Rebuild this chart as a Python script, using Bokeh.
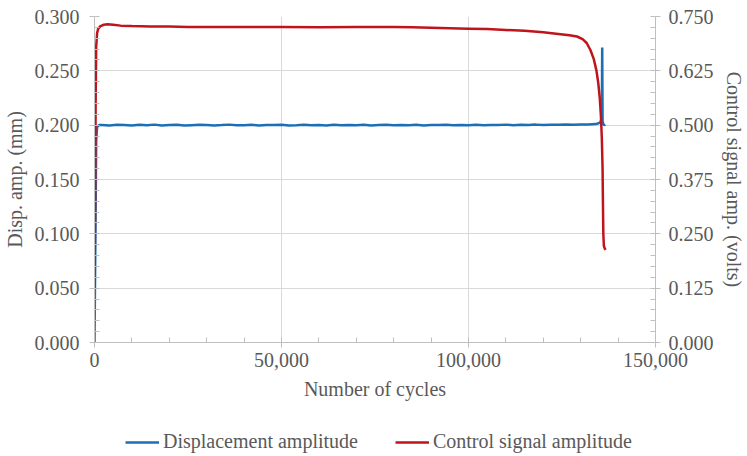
from bokeh.plotting import figure
from bokeh.models import (Range1d, LinearAxis, FixedTicker, NumeralTickFormatter,
                          Legend, LegendItem)
from bokeh.layouts import column
from bokeh.embed import file_html
from bokeh.resources import INLINE

# ---------------- data ----------------
disp_cycles = [0, 250, 450, 700, 1200,
               2000, 4000, 6000, 8000, 10000, 12000, 14000, 16000, 18000, 20000,
               22000, 24000, 26000, 28000, 30000, 32000, 34000, 36000, 38000, 40000,
               42000, 44000, 46000, 48000, 50000, 52000, 54000, 56000, 58000, 60000,
               62000, 64000, 66000, 68000, 70000, 72000, 74000, 76000, 78000, 80000,
               82000, 84000, 86000, 88000, 90000, 92000, 94000, 96000, 98000, 100000,
               102000, 104000, 106000, 108000, 110000, 112000, 114000, 116000, 118000, 120000,
               122000, 124000, 126000, 128000, 130000, 132000, 134000,
               134800, 135300, 135500, 135650, 135750, 135850, 136000, 136300, 136600]
disp_amp = [0.0, 0.100, 0.185, 0.1985, 0.2001,
            0.2002, 0.1998, 0.2004, 0.2001, 0.1997, 0.2003, 0.2000, 0.2005, 0.1998, 0.2001,
            0.2004, 0.1997, 0.2000, 0.2003, 0.2002, 0.1998, 0.2001, 0.2005, 0.1999, 0.2000,
            0.2003, 0.1997, 0.2002, 0.2001, 0.2004, 0.1998, 0.2000, 0.2003, 0.1999, 0.2002,
            0.1998, 0.2004, 0.2000, 0.2002, 0.1999, 0.2003, 0.1998, 0.2001, 0.2004, 0.1999,
            0.2002, 0.2000, 0.2003, 0.1998, 0.2002, 0.2001, 0.2004, 0.1999, 0.2002, 0.2000,
            0.2004, 0.1999, 0.2002, 0.2001, 0.2005, 0.2000, 0.2003, 0.2002, 0.2005, 0.2001,
            0.2004, 0.2003, 0.2006, 0.2003, 0.2007, 0.2006, 0.2010,
            0.2018, 0.2030, 0.2050, 0.2100, 0.2715, 0.2040, 0.2010, 0.2000, 0.2005]

ctrl_cycles = [0, 150, 300, 450, 700, 1000, 1600, 2500, 3500, 5000, 7000, 10000,
               15000, 20000, 25000, 30000, 40000, 50000, 60000, 70000, 80000, 85000,
               90000, 95000, 100000, 105000, 110000, 115000, 120000, 124000, 127000,
               129000, 130500, 131600, 132600, 133500, 134200, 134700, 135100, 135400,
               135650, 135850, 135950, 136050, 136200, 136450, 136650]
ctrl_amp = [0.125, 0.300, 0.550, 0.680, 0.712, 0.722, 0.728, 0.731, 0.732, 0.731, 0.729, 0.728,
            0.727, 0.727, 0.726, 0.726, 0.726, 0.726, 0.725, 0.726, 0.726, 0.725,
            0.724, 0.723, 0.722, 0.721, 0.719, 0.717, 0.714, 0.710, 0.707,
            0.704, 0.698, 0.689, 0.673, 0.652, 0.626, 0.597, 0.562, 0.522,
            0.470, 0.400, 0.320, 0.250, 0.222, 0.216, 0.213]

x_ticks = [0, 50000, 100000, 150000]
y_left_ticks = [0.0, 0.05, 0.10, 0.15, 0.20, 0.25, 0.30]
y_right_ticks = [0.0, 0.125, 0.25, 0.375, 0.5, 0.625, 0.75]
series_names = ["Displacement amplitude", "Control signal amplitude"]

# ---------------- styling ----------------
FONT = "Liberation Serif"
TXT = "#595959"
AXC = "#bfbfbf"
GRID = "#d9d9d9"
BLUE = "#1C6FB5"
RED = "#C0141C"

p = figure(width=747, height=420, output_backend="svg", toolbar_location=None,
           x_range=Range1d(0, 150000), y_range=Range1d(0, 0.3),
           min_border_left=94, min_border_right=91, min_border_top=16,
           min_border_bottom=78)
p.outline_line_color = None
p.background_fill_color = "white"
p.border_fill_color = "white"
p.extra_y_ranges = {"volts": Range1d(0, 0.75)}

def style(ax):
    ax.axis_line_color = AXC
    ax.major_tick_line_color = AXC
    ax.minor_tick_line_color = AXC
    ax.major_tick_in = 0
    ax.major_tick_out = 5
    ax.minor_tick_in = 5
    ax.minor_tick_out = 0
    ax.major_label_text_font = FONT
    ax.major_label_text_font_size = "20px"
    ax.major_label_text_color = TXT
    ax.axis_label_text_font = FONT
    ax.axis_label_text_font_size = "20px"
    ax.axis_label_text_font_style = "normal"
    ax.axis_label_text_color = TXT

xa = p.xaxis[0]
xa.ticker = FixedTicker(ticks=x_ticks, minor_ticks=[i * 10000 for i in range(16)])
xa.formatter = NumeralTickFormatter(format="0,0")
xa.axis_label = "Number of cycles"
style(xa)
xa.major_label_standoff = 5
xa.axis_label_standoff = 8

ya = p.yaxis[0]
ya.ticker = FixedTicker(ticks=y_left_ticks, minor_ticks=[i * 0.01 for i in range(31)])
ya.formatter = NumeralTickFormatter(format="0.000")
ya.axis_label = "Disp. amp. (mm)"
style(ya)
ya.major_label_standoff = 10
ya.axis_label_standoff = 6

ra = LinearAxis(y_range_name="volts")
ra.ticker = FixedTicker(ticks=y_right_ticks, minor_ticks=[i * 0.025 for i in range(31)])
ra.formatter = NumeralTickFormatter(format="0.000")
ra.axis_label = "Control signal amp. (volts)"
style(ra)
ra.major_label_standoff = 8
ra.axis_label_standoff = 6
ra.axis_label_orientation = "vertical"
p.add_layout(ra, "right")

p.xgrid.ticker = FixedTicker(ticks=[50000, 100000])
p.xgrid.grid_line_color = GRID
p.ygrid.grid_line_color = GRID

p.line(disp_cycles, disp_amp, line_color=BLUE, line_width=2.5)
p.line(ctrl_cycles, ctrl_amp, line_color=RED, line_width=2.5, y_range_name="volts")

# ---------------- legend strip (same series, ranges kept off the data) ----------------
lg = figure(width=747, height=36, output_backend="svg", toolbar_location=None,
            x_axis_type=None, y_axis_type=None, min_border=0,
            x_range=Range1d(-2, -1), y_range=Range1d(-2, -1))
lg.outline_line_color = None
lg.grid.visible = False
lb = lg.line(disp_cycles, disp_amp, line_color=BLUE, line_width=2.5)
lr = lg.line(ctrl_cycles, ctrl_amp, line_color=RED, line_width=2.5)
legend = Legend(items=[LegendItem(label=series_names[0], renderers=[lb]),
                       LegendItem(label=series_names[1], renderers=[lr])],
                orientation="horizontal", location=(31, 3),
                padding=0, margin=0, spacing=37, glyph_width=34, label_standoff=4,
                background_fill_alpha=0, border_line_alpha=0,
                label_text_font=FONT, label_text_font_size="20px",
                label_text_color=TXT)
lg.add_layout(legend)

open("out.html", "w").write(file_html(column(p, lg, spacing=0), INLINE))
